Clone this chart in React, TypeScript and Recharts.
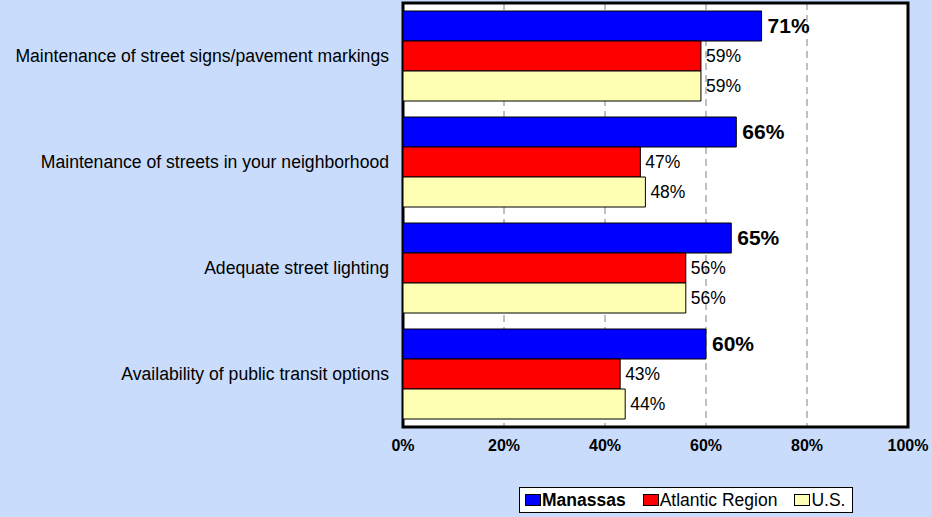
import React from 'react';
import { BarChart, Bar, XAxis, YAxis, CartesianGrid, LabelList, ReferenceArea } from 'recharts';

const categories = [
  'Maintenance of street signs/pavement markings',
  'Maintenance of streets in your neighborhood',
  'Adequate street lighting',
  'Availability of public transit options',
];
const manassas = [0.71, 0.66, 0.65, 0.60];
const atlantic = [0.59, 0.47, 0.56, 0.43];
const us = [0.59, 0.48, 0.56, 0.44];
const xTicks = [0, 0.2, 0.4, 0.6, 0.8, 1];

const seriesInfo = [
  { key: 'manassas', name: 'Manassas', color: '#0000FF', bold: true },
  { key: 'atlantic', name: 'Atlantic Region', color: '#FF0000', bold: false },
  { key: 'us', name: 'U.S.', color: '#FFFFB4', bold: false },
];

const data = categories.map((c, i) => ({ name: c, manassas: manassas[i], atlantic: atlantic[i], us: us[i] }));

const FONT = "Arial, 'Liberation Sans', sans-serif";
const pct = (v: any) => `${Math.round(Number(v) * 100)}%`;

const LegendBox = () => (
  <div style={{
    position: 'absolute', left: 519, top: 487, width: 334, height: 26,
    border: '1px solid #000', background: '#fff', boxSizing: 'border-box', whiteSpace: 'nowrap',
    display: 'flex', alignItems: 'center', paddingLeft: 5, fontFamily: FONT, fontSize: 17.5, color: '#000',
  }}>
    {seriesInfo.map((s) => (
      <div key={s.key} style={{ display: 'flex', alignItems: 'center', marginRight: 17, flexShrink: 0, whiteSpace: 'nowrap' }}>
        <span style={{ display: 'inline-block', width: 16, height: 12, background: s.color, border: '1px solid #000', marginRight: 1, boxSizing: 'border-box', flexShrink: 0 }} />
        <span style={{ fontWeight: s.bold ? 'bold' : 'normal', whiteSpace: 'nowrap' }}>{s.name}</span>
      </div>
    ))}
  </div>
);

export default function App() {
  return (
    <div style={{ position: 'absolute', left: 0, top: 0, width: 932, height: 517, background: '#C9DCFC', fontFamily: FONT }}>
      <BarChart
        width={932}
        height={517}
        data={data}
        layout="vertical"
        margin={{ top: 3, right: 24, bottom: 60, left: 0 }}
        barCategoryGap={8}
        barGap={0}
      >
        <CartesianGrid horizontal={false} vertical={true} fill="#FFFFFF" stroke="#808080" strokeDasharray="7 5" verticalValues={xTicks} />
        <XAxis
          type="number"
          domain={[0, 1]}
          ticks={xTicks}
          tickFormatter={pct}
          axisLine={false}
          tickLine={false}
          tickMargin={7}
          height={30}
          tick={{ fill: '#000', fontSize: 16, fontWeight: 'bold', fontFamily: FONT }}
          allowDataOverflow
        />
        <YAxis
          type="category"
          dataKey="name"
          width={403}
          axisLine={false}
          tickLine={false}
          tickMargin={8}
          tick={{ fill: '#000', fontSize: 17.6, fontFamily: FONT }}
        />
        <Bar dataKey="manassas" name="Manassas" fill="#0000FF" stroke="#000" strokeWidth={1} isAnimationActive={false}>
          <LabelList dataKey="manassas" position="right" offset={6} formatter={pct} style={{ fill: '#000', fontSize: 21, fontWeight: 'bold', fontFamily: FONT }} />
        </Bar>
        <Bar dataKey="atlantic" name="Atlantic Region" fill="#FF0000" stroke="#000" strokeWidth={1} isAnimationActive={false}>
          <LabelList dataKey="atlantic" position="right" offset={5} formatter={pct} style={{ fill: '#000', fontSize: 17.5, fontFamily: FONT }} />
        </Bar>
        <Bar dataKey="us" name="U.S." fill="#FFFFB4" stroke="#000" strokeWidth={1} isAnimationActive={false}>
          <LabelList dataKey="us" position="right" offset={5} formatter={pct} style={{ fill: '#000', fontSize: 17.5, fontFamily: FONT }} />
        </Bar>
        <ReferenceArea x1={0} x2={1} fill="none" stroke="#000" strokeWidth={3} ifOverflow="visible" />
      </BarChart>
      <LegendBox />
    </div>
  );
}
